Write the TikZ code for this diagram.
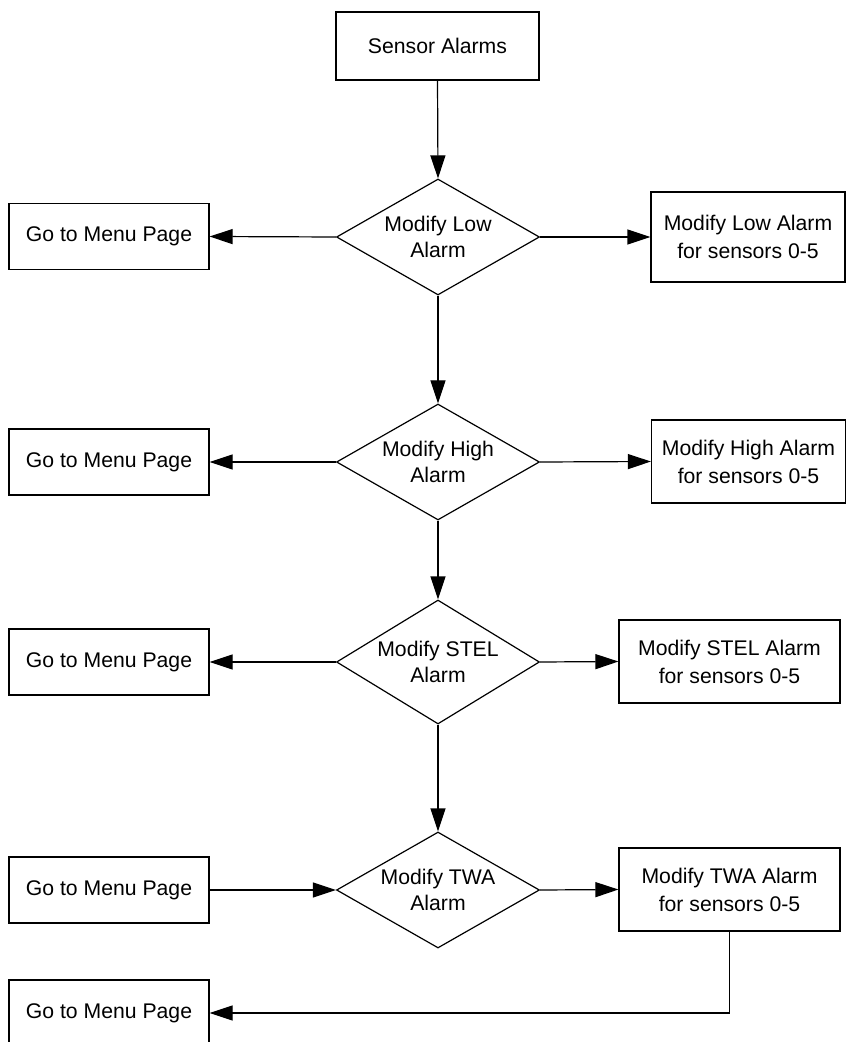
\documentclass[tikz,border=0pt]{standalone}
\usepackage{fontspec}
\setmainfont{Liberation Sans}
\usetikzlibrary{arrows.meta, shapes.geometric}

\begin{document}
\begin{tikzpicture}[x=0.5pt, y=-0.5pt, >={Triangle[length=11.5pt, width=7.5pt]},
  box/.style={draw, line width=0.6pt, align=center, inner sep=0pt,
    font=\fontsize{10.6}{14}\selectfont},
  menu/.style={box, minimum width=100pt, minimum height=33pt},
  decision/.style={diamond, draw, line width=0.6pt, align=center, inner sep=0pt,
    shape aspect=1.75, minimum width=101.5pt, minimum height=58pt,
    font=\fontsize{10.6}{13}\selectfont},
  link/.style={->, line width=0.6pt}]
  \useasboundingbox (0,0) rectangle (846,1042);
  % Top box
  \node[box, minimum width=101.5pt, minimum height=34pt] (start) at (437.5,46) {Sensor Alarms};
  % Decisions
  \node[decision] (lowq) at (438,237) {Modify Low\\Alarm};
  \node[decision] (highq) at (438,462) {Modify High\\Alarm};
  \node[decision, minimum height=62pt] (stelq) at (438,662) {Modify STEL\\Alarm};
  \node[decision] (twaq) at (438,890) {Modify TWA\\Alarm};
  % Menu boxes
  \node[menu] (menua) at (109,236.5) {Go to Menu Page};
  \node[menu] (menub) at (109,462) {Go to Menu Page};
  \node[menu] (menuc) at (109,662) {Go to Menu Page};
  \node[menu] (menud) at (109,890) {Go to Menu Page};
  \node[menu] (menue) at (109,1013) {Go to Menu Page};
  % Alarm boxes
  \node[box, minimum width=97pt, minimum height=45pt] (lowbox) at (748,237) {Modify Low Alarm\\for sensors 0-5};
  \node[box, minimum width=97pt, minimum height=41.5pt] (highbox) at (748.5,461.5) {Modify High Alarm\\for sensors 0-5};
  \node[box, minimum width=110.5pt, minimum height=41.5pt] (stelbox) at (729.5,661.5) {Modify STEL Alarm\\for sensors 0-5};
  \node[box, minimum width=110.5pt, minimum height=41.5pt] (twabox) at (729.5,889.5) {Modify TWA Alarm\\for sensors 0-5};
  % Connectors
  \draw[link] (start.south) -- (lowq.north);
  \draw[link] (lowq.west) -- (menua.east);
  \draw[link] (lowq.east) -- (lowbox.west);
  \draw[link] (lowq.south) -- (highq.north);
  \draw[link] (highq.west) -- (menub.east);
  \draw[link] (highq.east) -- (highbox.west);
  \draw[link] (highq.south) -- (stelq.north);
  \draw[link] (stelq.west) -- (menuc.east);
  \draw[link] (stelq.east) -- (stelbox.west);
  \draw[link] (stelq.south) -- (twaq.north);
  \draw[link] (menud.east) -- (twaq.west);
  \draw[link] (twaq.east) -- (twabox.west);
  \draw[link] (twabox.south) |- (menue.east);
\end{tikzpicture}
\end{document}
